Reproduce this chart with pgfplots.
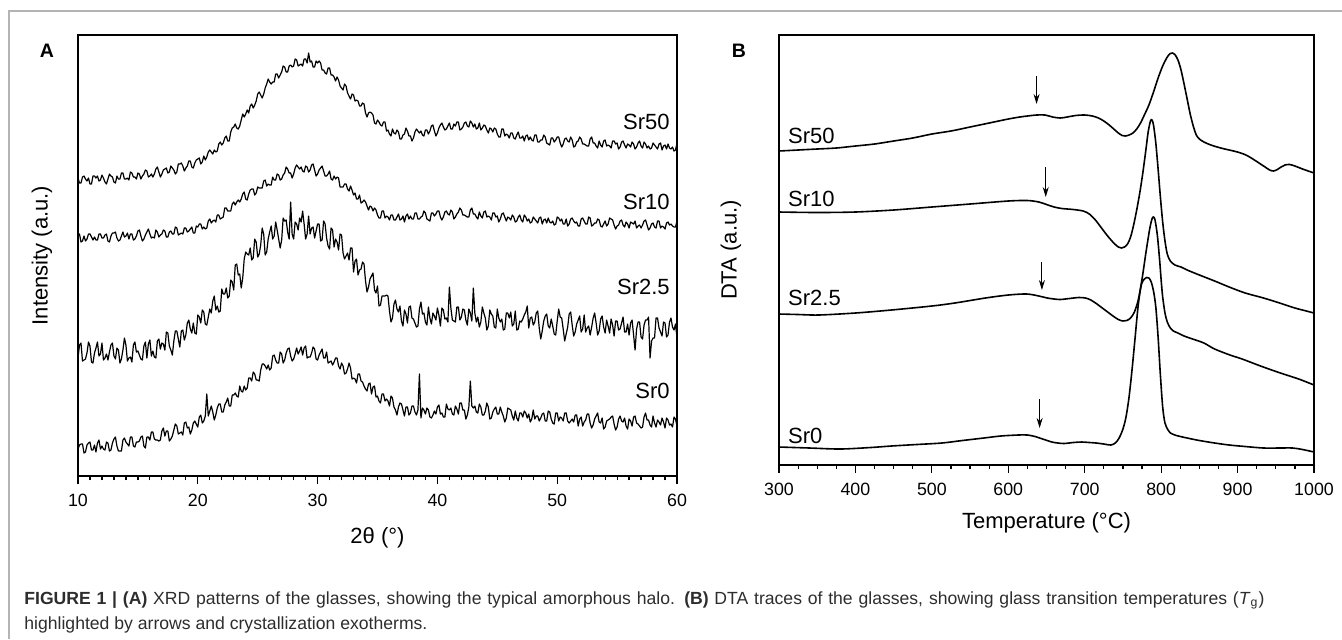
\documentclass[border=0pt]{standalone}
\usepackage{fontspec}
\setmainfont{Liberation Sans}
\usepackage{pgfplots}
\pgfplotsset{compat=1.18}
\usepackage{pgfplotstable}
\usetikzlibrary{arrows.meta}

\pgfplotstableread{
x s0 s25 s10 s50
10 27 118 241 298
10.125 31 131 242 293
10.25 32 133 234 293
10.375 32 115 235 299
10.5 23 116 240 300
10.625 24 117 235 297
10.75 31 123 237 295
10.875 33 134 242 298
11 34 130 242 292
11.125 26 114 239 292
11.25 26 113 236 300
11.375 31 123 239 300
11.5 24 128 236 298
11.625 33 134 236 300
11.75 36 120 242 295
11.875 27 122 242 296
12 30 133 238 301
12.125 27 116 238 298
12.25 26 118 241 294
12.375 34 122 242 292
12.5 33 116 235 297
12.625 25 124 234 302
12.75 26 131 240 300
12.875 33 133 243 299
13 37 120 243 294
13.125 39 117 244 293
13.25 30 128 238 300
13.375 25 126 235 297
13.5 25 113 236 297
13.625 25 117 240 303
13.75 36 126 244 303
13.875 38 138 239 297
14 34 131 240 297
14.125 32 115 243 298
14.25 30 118 237 296
14.375 39 119 242 304
14.5 39 114 242 303
14.625 30 131 236 299
14.75 29 134 237 299
14.875 34 124 240 297
15 34 125 245 303
15.125 35 121 246 302
15.25 39 117 240 297
15.375 40 116 235 300
15.5 30 130 237 302
15.625 28 134 241 306
15.75 39 118 244 305
15.875 39 132 247 299
16 36 136 242 300
16.125 44 120 238 302
16.25 44 125 239 299
16.375 37 119 238 302
16.5 36 118 246 307
16.625 36 135 244 309
16.75 35 137 239 304
16.875 36 127 241 299
17 45 133 242 302
17.125 48 132 246 306
17.25 40 126 245 307
17.375 45 144 239 308
17.5 45 143 239 303
17.625 35 130 244 304
17.75 37 126 245 310
17.875 40 121 242 308
18 46 135 242 306
18.125 52 145 249 302
18.25 50 145 248 304
18.375 42 137 241 312
18.5 43 129 242 312
18.625 44 145 243 313
18.75 41 146 242 310
18.875 53 136 248 305
19 54 141 248 308
19.125 48 153 244 310
19.25 49 156 245 315
19.375 42 147 247 315
19.5 46 143 249 309
19.625 53 153 243 308
19.75 55 143 243 313
19.875 52 142 250 316
20 49 161 249 317
20.125 59 159 252 318
20.25 61 153 252 312
20.375 53 166 247 314
20.5 55 164 249 320
20.625 60 152 247 316
20.75 82 151 248 319
20.875 60 159 255 324
21 65 167 257 326
21.125 70 163 253 324
21.25 64 175 255 322
21.375 56 180 256 326
21.5 61 166 254 324
21.625 68 170 261 325
21.75 72 164 261 332
21.875 72 165 257 334
22 64 187 258 331
22.125 64 182 259 333
22.25 71 182 268 338
22.375 74 188 268 340
22.5 78 178 265 335
22.625 70 180 265 335
22.75 70 196 265 344
22.875 81 194 272 348
23 81 186 274 349
23.125 83 211 271 352
23.25 80 212 274 348
23.375 79 201 276 347
23.5 90 202 274 350
23.625 85 188 277 356
23.75 84 198 282 362
23.875 90 217 284 359
24 86 224 277 362
24.125 88 222 276 366
24.25 98 221 282 363
24.375 98 228 286 370
24.5 95 216 287 372
24.625 104 218 287 368
24.75 102 237 281 371
24.875 96 234 283 375
25 96 219 289 382
25.125 95 222 288 384
25.25 106 231 288 381
25.375 112 248 288 378
25.5 112 242 295 382
25.625 110 221 296 388
25.75 107 224 290 392
25.875 111 237 292 397
26 106 244 291 394
26.125 108 250 291 392
26.25 120 237 299 394
26.375 121 240 296 394
26.5 116 254 296 402
26.625 113 246 302 402
26.75 113 237 301 398
26.875 124 228 296 401
27 122 236 297 404
27.125 113 258 301 410
27.25 116 255 303 409
27.375 123 256 309 404
27.5 127 244 307 404
27.625 128 237 303 410
27.75 120 274 303 411
27.875 115 242 298 409
28 117 237 302 410
28.125 122 254 308 417
28.25 128 252 311 416
28.375 122 246 309 410
28.5 125 258 307 411
28.625 129 254 309 412
28.75 121 265 305 410
28.875 128 252 304 417
29 130 237 310 417
29.125 118 242 309 413
29.25 119 260 304 423
29.375 119 242 306 414
29.5 123 248 311 415
29.625 129 249 312 409
29.75 127 238 306 409
29.875 117 245 300 415
30 116 252 302 413
30.125 121 252 306 415
30.25 124 235 308 413
30.375 127 236 310 406
30.5 118 255 305 406
30.625 118 252 300 403
30.75 124 238 300 402
30.875 113 230 302 408
31 114 227 305 408
31.125 115 248 297 401
31.25 111 246 296 401
31.375 114 229 300 399
31.5 118 237 297 395
31.625 118 234 299 399
31.75 110 226 298 396
31.875 107 242 289 390
32 113 241 289 388
32.125 110 223 289 386
32.25 102 217 292 392
32.375 103 220 292 390
32.5 107 223 287 383
32.625 113 216 285 380
32.75 108 228 290 377
32.875 97 228 286 382
33 98 204 281 381
33.125 97 215 283 375
33.25 93 217 277 376
33.375 102 201 277 375
33.5 102 206 281 370
33.625 95 207 273 370
33.75 94 214 274 373
33.875 90 212 276 372
34 87 195 274 363
34.125 85 184 270 359
34.25 92 189 266 363
34.375 93 197 270 364
34.5 82 200 269 363
34.625 89 203 265 361
34.75 90 186 268 353
34.875 79 183 266 352
35 80 190 261 356
35.125 75 170 258 354
35.25 73 171 258 351
35.375 82 180 265 350
35.5 82 180 265 354
35.625 75 180 258 354
35.75 77 181 260 345
35.875 75 180 259 346
36 70 165 256 342
36.125 80 154 261 340
36.25 78 158 261 347
36.375 69 172 256 343
36.5 66 176 256 342
36.625 61 167 259 346
36.75 69 164 262 344
36.875 73 170 256 337
37 72 155 257 337
37.125 66 150 260 341
37.25 60 166 254 342
37.375 69 162 260 348
37.5 69 153 262 345
37.625 61 169 257 340
37.75 63 170 260 340
37.875 70 158 257 335
38 70 157 257 338
38.125 64 153 263 344
38.25 61 149 263 347
38.375 66 150 257 345
38.5 102 167 257 343
38.625 58 174 259 345
38.75 68 162 260 341
38.875 66 163 265 340
39 62 154 263 346
39.125 68 151 257 346
39.25 66 169 256 342
39.375 59 158 255 345
39.5 58 152 263 350
39.625 61 163 263 351
39.75 65 160 260 345
39.875 62 156 262 340
40 69 168 265 343
40.125 71 161 265 348
40.25 62 150 259 351
40.375 63 168 256 353
40.5 59 166 259 349
40.625 59 157 264 346
40.75 72 158 265 347
40.875 67 154 262 350
41 66 189 261 353
41.125 68 168 266 347
41.25 62 156 264 347
41.375 61 155 257 352
41.5 70 154 259 350
41.625 67 169 262 354
41.75 62 169 264 354
41.875 73 156 268 346
42 73 159 266 347
42.125 66 167 261 349
42.25 66 166 261 353
42.375 57 156 260 354
42.5 61 151 259 350
42.625 69 167 259 349
42.75 95 163 266 355
42.875 70 155 268 353
43 68 188 262 349
43.125 70 163 262 352
43.25 64 154 259 347
43.375 63 159 257 348
43.5 72 149 264 353
43.625 69 154 260 346
43.75 61 169 258 348
43.875 61 163 264 351
44 65 158 265 350
44.125 73 146 259 346
44.25 69 150 260 343
44.375 57 166 259 348
44.5 58 162 256 347
44.625 64 160 263 344
44.75 67 149 263 348
44.875 69 148 259 347
45 62 167 260 342
45.125 62 158 254 339
45.25 69 154 257 339
45.375 64 157 262 347
45.5 60 146 263 347
45.625 54 147 259 340
45.75 58 163 255 342
45.875 68 163 259 341
46 67 158 258 338
46.125 66 164 256 343
46.25 60 150 261 343
46.375 56 152 259 338
46.5 65 165 254 337
46.625 58 146 255 341
46.75 55 147 259 344
46.875 63 155 261 338
47 63 154 256 338
47.125 59 157 254 340
47.25 65 161 261 335
47.375 63 164 259 340
47.5 58 170 255 341
47.625 62 148 257 336
47.75 54 158 253 339
47.875 57 159 254 336
48 66 151 259 335
48.125 57 154 257 341
48.25 60 163 255 341
48.375 60 165 253 334
48.5 55 148 258 334
48.625 58 137 259 336
48.75 62 145 252 336
48.875 63 155 256 341
49 55 160 257 339
49.125 55 162 253 333
49.25 65 150 258 332
49.375 64 148 254 331
49.5 57 157 253 338
49.625 53 150 255 338
49.75 52 142 251 334
49.875 63 141 252 336
50 63 155 259 339
50.125 55 167 258 339
50.25 59 159 255 333
50.375 58 158 257 329
50.5 55 147 252 332
50.625 63 135 252 337
50.75 63 142 257 338
50.875 55 149 250 335
51 53 162 252 334
51.125 55 164 257 339
51.25 57 151 258 336
51.375 54 140 255 329
51.5 61 144 253 330
51.625 61 152 254 334
51.75 50 156 250 335
51.875 57 160 250 339
52 59 144 257 337
52.125 50 147 258 332
52.25 54 161 255 332
52.375 56 144 252 331
52.5 62 148 252 330
52.625 62 150 259 330
52.75 53 141 258 337
52.875 48 149 250 339
53 51 158 251 333
53.125 57 163 253 333
53.25 60 153 253 330
53.375 63 141 257 328
53.5 54 145 256 335
53.625 53 157 250 331
53.75 58 160 249 329
53.875 47 149 252 335
54 49 143 255 336
54.125 55 156 250 330
54.25 56 150 252 331
54.375 57 143 258 330
54.5 59 157 257 328
54.625 60 151 256 335
54.75 52 140 251 335
54.875 46 155 247 332
55 49 155 250 333
55.125 57 146 251 327
55.25 60 147 255 329
55.375 55 153 256 334
55.5 54 159 251 335
55.625 58 144 249 331
55.75 50 144 254 328
55.875 47 152 252 332
56 57 141 248 331
56.125 55 153 254 329
56.25 50 156 253 334
56.375 59 141 252 332
56.5 60 126 255 327
56.625 53 147 248 329
56.75 52 154 250 333
56.875 50 154 251 335
57 48 139 248 330
57.125 49 137 251 328
57.25 59 151 255 334
57.375 63 156 256 332
57.5 56 156 251 328
57.625 56 159 246 330
57.75 51 118 248 327
57.875 49 135 252 328
58 60 138 253 333
58.125 53 138 249 331
58.25 49 158 248 329
58.375 56 158 255 327
58.5 54 148 255 332
58.625 51 144 248 333
58.75 58 140 250 326
58.875 54 154 249 330
59 48 153 247 331
59.125 58 139 253 327
59.25 56 141 254 332
59.375 51 154 251 328
59.5 52 158 252 327
59.625 49 149 250 329
59.75 59 146 249 325
59.875 57 152 249 326
60 50 138 255 333
}\xrd

\definecolor{framegray}{RGB}{180,180,180}
\definecolor{captxt}{RGB}{45,45,45}

\begin{document}
\begin{tikzpicture}
\useasboundingbox (0,0) rectangle (671pt,-319.5pt);
\draw[framegray, line width=0.7pt] (4.5pt,-319.5pt) -- (4.5pt,-5.5pt) -- (671pt,-5.5pt);

\pgfplotsset{
  every axis/.append style={
    scale only axis, clip=false,
    axis line style={line width=0.9pt},
    xtick pos=left, ytick=\empty,
    tick align=outside,
    major tick length=4pt, minor tick length=2.2pt,
    every tick/.style={black, line width=0.6pt},
    xticklabel style={font=\fontsize{8.9}{10}\selectfont, yshift=-1.5pt},
    /pgf/number format/assume math mode=true,
    /pgf/number format/1000 sep={},
    label style={font=\fontsize{11}{13}\selectfont},
  },
}

\begin{axis}[
  at={(39pt,-17.5pt)}, anchor=north west,
  width=299.5pt, height=220.5pt,
  xmin=10, xmax=60, ymin=0, ymax=441,
  xtick={10,20,30,40,50,60}, minor x tick num=9,
  xlabel={2θ (°)},
  xlabel style={at={(axis description cs:0.5,-0.1406)}, anchor=center},
  ylabel={Intensity (a.u.)},
  ylabel style={at={(axis description cs:-0.0601,0.5)}, anchor=center},
]
\addplot[black, line width=0.6pt, line join=round] table[x=x,y=s0]{\xrd};
\addplot[black, line width=0.6pt, line join=round] table[x=x,y=s25]{\xrd};
\addplot[black, line width=0.6pt, line join=round] table[x=x,y=s10]{\xrd};
\addplot[black, line width=0.6pt, line join=round] table[x=x,y=s50]{\xrd};
\node[anchor=east, inner sep=0pt, font=\fontsize{11}{13}\selectfont] at (axis cs:59.42,354) {Sr50};
\node[anchor=east, inner sep=0pt, font=\fontsize{11}{13}\selectfont] at (axis cs:59.42,274) {Sr10};
\node[anchor=east, inner sep=0pt, font=\fontsize{11}{13}\selectfont] at (axis cs:59.42,189) {Sr2.5};
\node[anchor=east, inner sep=0pt, font=\fontsize{11}{13}\selectfont] at (axis cs:59.42,85) {Sr0};
\end{axis}

\begin{axis}[
  at={(389.5pt,-17.5pt)}, anchor=north west,
  width=267.5pt, height=215pt,
  xmin=300, xmax=1000, ymin=0, ymax=430,
  xtick={300,400,...,1000}, minor x tick num=3,
  xlabel={Temperature (°C)},
  xlabel style={at={(axis description cs:0.5,-0.1349)}, anchor=center},
  ylabel={DTA (a.u.)},
  ylabel style={at={(axis description cs:-0.0897,0.5)}, anchor=center},
]
\addplot[black, line width=0.8pt, smooth] coordinates {
(300,314) (325,315) (350,316) (375,317) (400,319) (425,321) (450,324) (475,327) (500,331) (525,334) (550,338) (575,342) (600,346) (615,348) (625,349) (637,350) (648,350) (658,348) (668,347) (677,348) (688,349.5) (700,350) (710,349) (718,347) (725,344) (732,340) (738,336) (744,332) (749,329.5) (753,329) (758,330) (763,332) (768,336) (773,342) (778,350) (784,360) (790,373) (796,387) (802,399) (808,408) (812,411.5) (815,412) (818,410.5) (822,405) (826,395) (830,381) (834,366) (838,351) (842,339) (846,330) (850,326) (856,323) (865,320) (878,317) (889,315) (900,313) (911,310) (920,306) (928,302) (936,298) (942,295) (947,294) (952,295.5) (957,298) (962,300) (968,300.5) (975,299) (985,296) (1000,292)
};
\addplot[black, line width=0.8pt, smooth] coordinates {
(300,253) (350,252.5) (400,253) (450,255) (500,258) (550,261) (600,264) (625,264.5) (640,263) (650,260.5) (660,258) (670,256.5) (685,255.5) (698,254) (706,251) (714,245) (722,237) (730,229) (738,222) (744,218) (748,217) (752,218) (756,221) (760,228) (764,240) (768,255) (772,272) (776,292) (780,315) (783,333) (786,344) (788,345) (790,340) (793,322) (796,296) (799,268) (802,243) (805,224) (808,211) (812,204) (818,200) (826,198) (834,195) (850,190) (870,184) (889,178) (910,172) (934,167) (955,162) (975,157) (990,154) (1000,152)
};
\addplot[black, line width=0.8pt, smooth] coordinates {
(300,151) (325,150.5) (352,150) (400,152) (447,155) (500,159) (530,162) (570,167) (600,170) (624,171) (640,169) (651,167) (660,166) (668,165.5) (680,166.5) (692,167.5) (701,167) (708,165) (716,161) (723,157) (730,153) (737,149) (744,145.5) (750,144) (755,144.5) (760,147) (765,153) (770,165) (775,186) (780,212) (785,236) (788,246) (790,248) (792,245) (795,230) (798,205) (800,185) (802,168) (805,152) (808,143) (812,137) (816,134) (822,132) (830,129) (845,125) (856,122) (870,116) (890,110) (906,106) (930,99) (956,92) (980,86) (1000,80)
};
\addplot[black, line width=0.8pt, smooth] coordinates {
(300,18) (340,17) (380,16) (420,17.5) (447,19) (480,20.5) (513,22) (540,24.5) (568,27) (590,29) (613,30) (625,30) (635,28.5) (645,26) (657,23) (665,22) (673,21.5) (685,22.5) (696,23) (706,22.5) (715,22) (725,21) (734,20) (740,22) (745,27) (750,36) (754,48) (758,68) (762,96) (766,128) (770,160) (774,180) (778,186) (781,187.5) (784,187) (787,183) (790,174) (793,158) (796,128) (799,90) (802,58) (805,42) (809,35) (812,32) (820,29.5) (834,27) (850,24.5) (870,22) (889,20) (910,18.5) (934,17) (955,17) (972,17) (985,15.5) (1000,13)
};
\draw[-{Stealth[length=5pt,width=3pt]}, line width=0.5pt] (axis cs:637,389) -- (axis cs:637,361);
\draw[-{Stealth[length=5pt,width=3pt]}, line width=0.5pt] (axis cs:649,298) -- (axis cs:649,268);
\draw[-{Stealth[length=5pt,width=3pt]}, line width=0.5pt] (axis cs:644,203) -- (axis cs:644,175);
\draw[-{Stealth[length=5pt,width=3pt]}, line width=0.5pt] (axis cs:641,66) -- (axis cs:641,37);
\node[anchor=west, inner sep=0pt, font=\fontsize{11}{13}\selectfont] at (axis cs:311.5,329) {Sr50};
\node[anchor=west, inner sep=0pt, font=\fontsize{11}{13}\selectfont] at (axis cs:311.5,266) {Sr10};
\node[anchor=west, inner sep=0pt, font=\fontsize{11}{13}\selectfont] at (axis cs:311.5,167) {Sr2.5};
\node[anchor=west, inner sep=0pt, font=\fontsize{11}{13}\selectfont] at (axis cs:311.5,29) {Sr0};
\end{axis}

\node[font=\bfseries\fontsize{9.75}{11}\selectfont] at (23.5pt,-25.5pt) {A};
\node[font=\bfseries\fontsize{9.75}{11}\selectfont] at (369.5pt,-25.5pt) {B};

\node[anchor=base west, inner sep=0pt, text=captxt, font=\fontsize{8.8}{10}\selectfont] at (12pt,-302pt)
  {\makebox[620pt][s]{\textbf{FIGURE 1 | (A)} XRD patterns of the glasses, showing the typical amorphous halo. \textbf{(B)} DTA traces of the glasses, showing glass transition temperatures (\textit{T}\textsubscript{g})}};
\node[anchor=base west, inner sep=0pt, text=captxt, font=\fontsize{8.8}{10}\selectfont] at (12pt,-314.5pt)
  {highlighted by arrows and crystallization exotherms.};
\end{tikzpicture}
\end{document}
